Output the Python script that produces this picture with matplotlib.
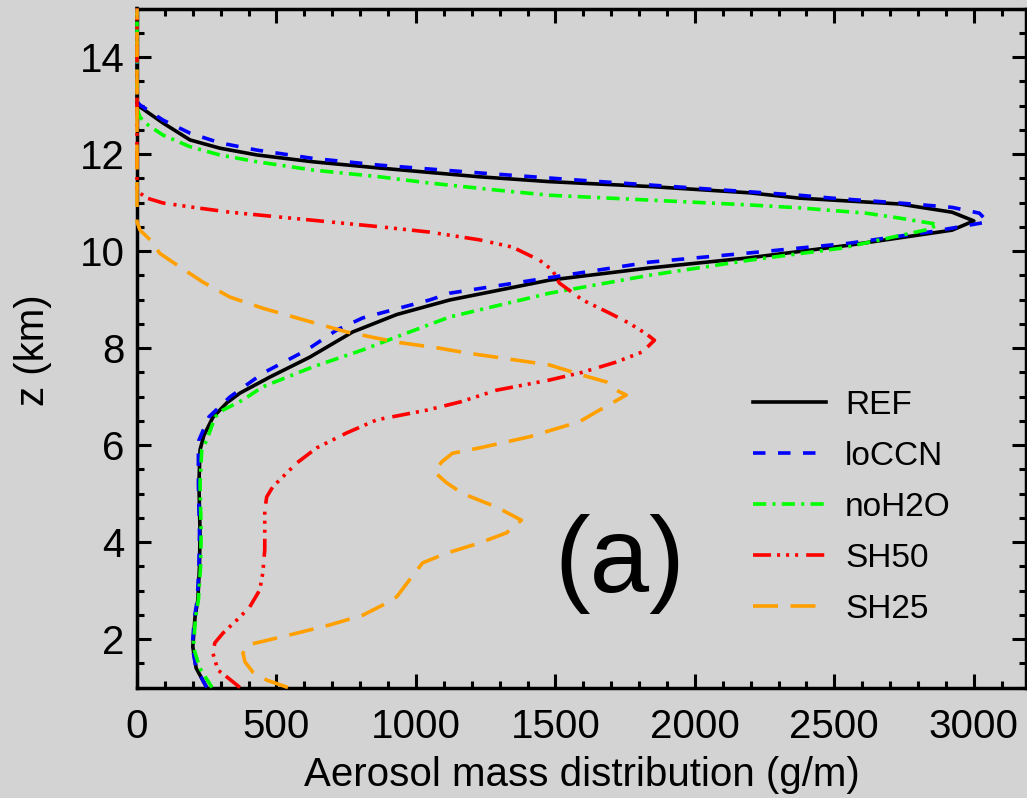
import matplotlib
matplotlib.use("Agg")
import matplotlib.pyplot as plt
from matplotlib.ticker import MultipleLocator

plt.rcParams['font.family'] = ['Liberation Sans', 'DejaVu Sans']
plt.rcParams['lines.scale_dashes'] = False

# ---------------- data (z in km, aerosol mass in g/m) ----------------
ref_z = [1.0, 1.4, 1.84, 2.45, 2.8, 3.5, 4.2, 5.2, 5.9, 6.2, 6.57, 6.87, 7.07, 7.40, 7.81,
         8.33, 8.69, 8.99, 9.40, 9.65, 9.86, 10.12, 10.27, 10.43, 10.62, 10.8, 10.97, 11.09,
         11.2, 11.33, 11.43, 11.53, 11.71, 11.84, 11.98, 12.12, 12.29, 12.64, 12.97, 13.05, 15.0]
ref_x = [250, 212, 200, 208, 218, 224, 226, 222, 226, 240, 272, 322, 369, 476, 619,
         773, 931, 1121, 1479, 1837, 2195, 2553, 2732, 2922, 3000, 2922, 2732, 2374,
         2195, 1837, 1479, 1228, 870, 630, 430, 297, 190, 93, 11, 0, 0]

loccn_z = [1.0, 1.4, 1.84, 2.45, 2.8, 3.5, 4.2, 5.2, 5.9, 6.1, 6.58, 6.99, 7.48, 7.96, 8.37,
           8.62, 8.99, 9.13, 9.47, 9.77, 9.96, 10.16, 10.4, 10.6, 10.78, 10.9, 10.99, 11.09,
           11.15, 11.46, 11.61, 11.77, 11.91, 12.08, 12.23, 12.43, 12.70, 13.01, 13.08, 15.0]
loccn_x = [250, 212, 198, 206, 216, 222, 224, 220, 220, 222, 258, 333, 451, 609, 716,
           809, 1049, 1121, 1500, 1837, 2195, 2553, 2850, 3050, 3020, 2922, 2732, 2492,
           2374, 1586, 1228, 870, 630, 430, 297, 190, 93, 11, 0, 0]

noh2o_z = [1.0, 1.4, 1.84, 2.45, 2.8, 3.5, 4.2, 5.2, 5.9, 6.1, 6.58, 6.72, 6.93, 7.2, 7.61,
           7.96, 8.23, 8.64, 9.13, 9.5, 9.81, 10.06, 10.3, 10.45, 10.55, 10.68, 10.78, 10.89,
           10.95, 11.05, 11.15, 11.25, 11.40, 11.53, 11.67, 11.84, 11.98, 12.15, 12.39, 12.64,
           12.76, 12.94, 15.0]
noh2o_x = [269, 225, 202, 210, 220, 228, 230, 226, 232, 250, 280, 308, 380, 451, 630,
           809, 931, 1121, 1479, 1837, 2195, 2528, 2720, 2840, 2870, 2732, 2614, 2374,
           2195, 1837, 1479, 1300, 1050, 870, 630, 430, 297, 190, 93, 29,
           11, 0, 0]

sh50_z = [1.0, 1.2, 1.36, 1.71, 1.92, 2.12, 2.43, 2.66, 3.01, 3.36, 3.84, 4.31, 4.66, 4.93,
          5.14, 5.63, 5.94, 6.25, 6.52, 6.72, 6.89, 7.13, 7.34, 7.5, 7.71, 7.92, 8.16, 8.29,
          8.51, 8.72, 8.99, 9.34, 9.6, 9.81, 10.08, 10.23, 10.39, 10.5, 10.6, 10.7, 10.8,
          10.89, 10.99, 11.09, 11.22, 11.3, 15.0]
sh50_x = [369, 326, 290, 272, 279, 308, 365, 404, 440, 451, 458, 458, 458, 465,
          487, 573, 644, 752, 860, 1040, 1160, 1289, 1479, 1597, 1718, 1812, 1855, 1826,
          1765, 1694, 1597, 1514, 1490, 1443, 1346, 1228, 1049, 870, 691, 512, 333,
          215, 93, 36, 4, 0, 0]

sh25_z = [1.0, 1.15, 1.32, 1.53, 1.71, 1.88, 1.95, 2.12, 2.29, 2.49, 2.7, 2.87, 3.22, 3.57,
          3.77, 3.98, 4.19, 4.45, 4.72, 5.0, 5.22, 5.44, 5.65, 5.83, 5.94, 6.17, 6.48, 6.72,
          7.03, 7.13, 7.3, 7.44, 7.65, 7.75, 7.9, 8.0, 8.12, 8.33, 8.62, 8.82, 9.05, 9.36,
          9.67, 9.95, 10.23, 10.43, 10.6, 15.0]
sh25_x = [541, 466, 415, 387, 380, 397, 450, 573, 691, 809, 881, 931, 977, 1024,
          1110, 1228, 1325, 1378, 1289, 1167, 1110, 1067, 1092, 1131, 1228, 1407, 1586, 1658,
          1754, 1718, 1683, 1597, 1479, 1360, 1180, 1080, 931, 752, 573, 451, 333, 236,
          154, 82, 47, 11, 0, 0]

labels = ['REF', 'loCCN', 'noH2O', 'SH50', 'SH25']
x_ticks = [0, 500, 1000, 1500, 2000, 2500, 3000]
y_ticks = [2, 4, 6, 8, 10, 12, 14]

# ---------------- figure ----------------
W, H = 1027, 798
bg = '#d3d3d3'
fig = plt.figure(figsize=(W / 100, H / 100), dpi=100, facecolor=bg)
ax = fig.add_axes([137 / W, (H - 687.5) / H, (1026 - 137) / W, (687.5 - 8.5) / H])
ax.set_facecolor(bg)

lw = 2.6
series = [
    (ref_x, ref_z, '#000000', '-', None),
    (loccn_x, loccn_z, '#0000ff', '--', (0, (9, 9))),
    (noh2o_x, noh2o_z, '#00ff00', '-.', (0, (9.5, 4.5, 2.2, 4.5))),
    (sh50_x, sh50_z, '#ff0000', '-.', (0, (13, 4.3, 2.2, 4.3, 2.2, 4.3, 2.2, 5.8))),
    (sh25_x, sh25_z, '#ffa000', '--', (0, (18, 9))),
]
for (xs, zs, c, ls, dash), lab in zip(series, labels):
    line, = ax.plot(xs, zs, color=c, lw=lw, label=lab, zorder=3, clip_on=False)
    if dash is not None:
        line.set_linestyle(dash)

ax.set_xlim(0, 3187)
ax.set_ylim(1, 15)
ax.set_xticks(x_ticks)
ax.set_yticks(y_ticks)
ax.xaxis.set_minor_locator(MultipleLocator(100))
ax.yaxis.set_minor_locator(MultipleLocator(0.5))
ax.tick_params(which='both', direction='in', top=True, right=True, width=2.2, color='black')
ax.tick_params(which='major', length=10)
ax.tick_params(which='minor', length=5)
ax.tick_params(axis='x', which='major', labelsize=29, pad=15)
ax.tick_params(axis='y', which='major', labelsize=29, pad=9)
for sp in ax.spines.values():
    sp.set_linewidth(2.5)

ax.set_xlabel('Aerosol mass distribution (g/m)', fontsize=29)
ax.set_ylabel('z (km)', fontsize=29)
ax.xaxis.set_label_coords(0.5, (687.5 - 756) / 679)
ax.xaxis.label.set_va('top')
ax.yaxis.set_label_coords((52 - 137) / 889, (687.5 - 350) / 679)

ax.text(1729, 2.97, '(a)', fontsize=77, ha='center', va='baseline')

leg = ax.legend(loc='upper left', bbox_to_anchor=(753 / W, (H - 390) / H),
                bbox_transform=fig.transFigure, frameon=False, fontsize=24,
                handlelength=2.18, handletextpad=0.58, labelspacing=0.6,
                borderpad=0, borderaxespad=0)

fig.savefig('out.png', dpi=100, facecolor=bg)
